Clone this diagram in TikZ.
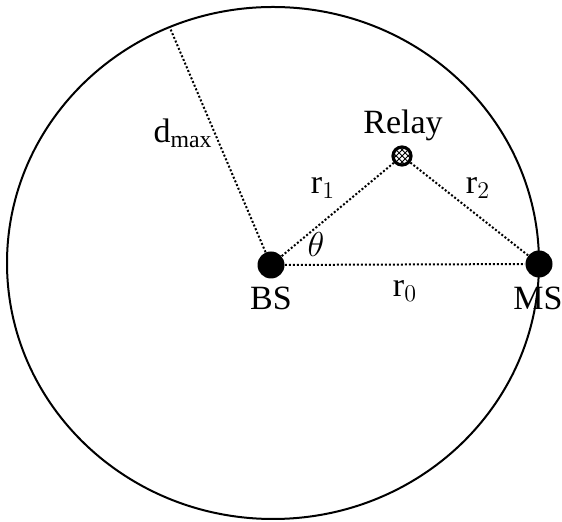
\documentclass[tikz,border=0pt]{standalone}
\usepackage{fontspec}
\setmainfont{Liberation Serif}
\usetikzlibrary{patterns, positioning}

\begin{document}
\begin{tikzpicture}[
  x=0.5pt, y=-0.5pt,
  station/.style={circle, fill=black, inner sep=0pt, minimum size=13.5pt},
  relaynode/.style={circle, draw, line width=1.6pt, pattern=crosshatch, inner sep=0pt, minimum size=9pt},
  link/.style={densely dotted, line width=1pt},
  lbl/.style={font=\fontsize{17}{19}\selectfont, inner sep=1pt}
]
\useasboundingbox (0,0) rectangle (562,522);
\draw[line width=1pt] (273,263) ellipse [x radius=266, y radius=256];

\node[station] (bs) at (271,265) {};
\node[station] (ms) at (539,264) {};
\node[relaynode] (relay) at (402,156) {};
\coordinate (edge) at (170,28);

\draw[link] (bs) -- (edge);
\draw[link] (bs) -- (relay);
\draw[link] (relay) -- (ms);
\draw[link] (bs) -- (ms);

\node[lbl] (bslabel) at (271,298) {BS};
\node[lbl] (mslabel) at (538,298) {MS};
\node[lbl] (relaylabel) at (403,125) {Relay};
\node[lbl] (dlabel) at (183,133) {d$_{\mathrm{max}}$};
\node[lbl] (r1label) at (323,188) {r$_1$};
\node[lbl] (r2label) at (478,188) {r$_2$};
\node[lbl] (r0label) at (405,291) {r$_0$};
\node[lbl] (thetalabel) at (316,245) {$\theta$};
\end{tikzpicture}
\end{document}
